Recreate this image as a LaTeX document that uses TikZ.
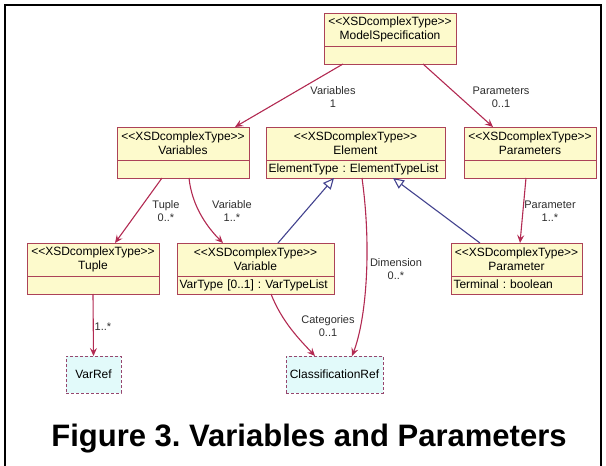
\documentclass[tikz,border=0pt]{standalone}
\usepackage{fontspec}
\setmainfont{Liberation Sans}
\usetikzlibrary{positioning,arrows.meta}
\definecolor{classfill}{RGB}{253,250,204}
\definecolor{classline}{RGB}{172,66,88}
\definecolor{assocred}{RGB}{178,42,82}
\definecolor{inheritblue}{RGB}{66,66,142}
\definecolor{reffill}{RGB}{226,250,250}
\definecolor{refline}{RGB}{150,70,110}
\definecolor{labelgray}{RGB}{45,45,45}
\newcommand\xsdtype{<{}<XSDcomplexType>{}>}
\frenchspacing

\begin{document}
\begin{tikzpicture}[x = 1pt, y = -1pt,
		head/.style = {draw = classline, fill = classfill, line width = 1pt,
			inner sep = 0pt, outer sep = 0pt, minimum height = 33pt,
			minimum width = #1, align = center, font = \fontsize{12}{14}\selectfont},
		body/.style 2 args = {draw = classline, fill = classfill, line width = 1pt,
			inner xsep = 2.5pt, inner ysep = 0pt, outer sep = 0pt, minimum height = 18pt,
			minimum width = #1, text width = #2, align = left,
			text height = 8.5pt, text depth = 2.5pt, font = \fontsize{12}{14}\selectfont},
		refbox/.style = {draw = refline, fill = reffill, line width = 1pt,
			dash pattern = on 3pt off 2pt, inner sep = 0pt, outer sep = 0pt,
			minimum height = 37pt, minimum width = #1, font = \fontsize{12}{14}\selectfont},
		assoc/.style = {draw = assocred, line width = 1.1pt,
			-{Stealth[length = 8pt, width = 7pt, inset = 3pt]}},
		inherit/.style = {draw = inheritblue, line width = 1.1pt,
			-{Triangle[open, length = 11pt, width = 10pt, fill = white]}},
		assoclabel/.style = {align = center, text = labelgray, inner sep = 0pt,
			font = \fontsize{11}{13}\selectfont}]
	\useasboundingbox (0, 0) rectangle (606, 466) ;
	\draw [line width = 2.5pt] (5, 466) -- (5, 5) -- (601, 5) -- (601, 466) ;

	\node [head = 132pt] (ms) at (390, 29.5) {\xsdtype\\ModelSpecification} ;
	\node [body = {132pt}{127pt}, below = 0pt of ms] (msb) {} ;
	\node [head = 132pt] (vars) at (183, 143.5) {\xsdtype\\Variables} ;
	\node [body = {132pt}{127pt}, below = 0pt of vars] (varsb) {} ;
	\node [head = 179pt] (el) at (355.5, 143.5) {\xsdtype\\Element} ;
	\node [body = {179pt}{174pt}, below = 0pt of el] (elb) {ElementType : ElementTypeList} ;
	\node [head = 132pt] (params) at (530, 143.5) {\xsdtype\\Parameters} ;
	\node [body = {132pt}{127pt}, below = 0pt of params] (paramsb) {} ;
	\node [head = 132pt] (tuple) at (93, 259.5) {\xsdtype\\Tuple} ;
	\node [body = {132pt}{127pt}, below = 0pt of tuple] (tupleb) {} ;
	\node [head = 157pt] (variable) at (255.5, 259.5) {\xsdtype\\Variable} ;
	\node [body = {157pt}{152pt}, below = 0pt of variable] (variableb) {VarType [0..1] : VarTypeList} ;
	\node [head = 131pt] (parameter) at (516.5, 259.5) {\xsdtype\\Parameter} ;
	\node [body = {131pt}{126pt}, below = 0pt of parameter] (parameterb) {Terminal : boolean} ;
	\node [refbox = 55pt] (varref) at (93.5, 374.5) {VarRef} ;
	\node [refbox = 97pt] (classref) at (334.5, 374.5) {ClassificationRef} ;

	\draw [assoc] ([xshift = -47pt]msb.south) -- ([xshift = 52pt]vars.north) ;
	\draw [assoc] ([xshift = 33pt]msb.south) -- ([xshift = -37pt]params.north) ;
	\draw [assoc] ([xshift = -21pt]varsb.south) -- ([xshift = 22pt]tuple.north) ;
	\draw [assoc] ([xshift = 6pt]varsb.south)
		.. controls (192, 207) and (208, 228) .. ([xshift = -32.5pt]variable.north) ;
	\draw [assoc] ([xshift = -4pt]paramsb.south) -- ([xshift = 3.5pt]parameter.north) ;
	\draw [assoc] (tupleb.south) -- (varref.north) ;
	\draw [assoc] ([xshift = 15.5pt]variableb.south)
		.. controls (282, 322) and (300, 340) .. ([xshift = -19.5pt]classref.north) ;
	\draw [assoc] ([xshift = 6.5pt]elb.south)
		.. controls (372, 250) and (366, 320) .. ([xshift = 17.5pt]classref.north) ;
	\draw [inherit] ([xshift = 22.5pt]variable.north) -- ([xshift = -21.5pt]elb.south) ;
	\draw [inherit] ([xshift = -36.5pt]parameter.north) -- ([xshift = 37.5pt]elb.south) ;

	\node [assoclabel] (lvars) at (333, 97.5) {Variables\\1} ;
	\node [assoclabel] (lparams) at (501, 97.5) {Parameters\\0..1} ;
	\node [assoclabel] (ltuple) at (166, 211.5) {Tuple\\0..*} ;
	\node [assoclabel] (lvariable) at (232, 211.5) {Variable\\1..*} ;
	\node [assoclabel] (lparameter) at (550, 211.5) {Parameter\\1..*} ;
	\node [assoclabel] (lvarref) at (103, 327) {1..*} ;
	\node [assoclabel] (lcategories) at (328, 326) {Categories\\0..1} ;
	\node [assoclabel] (ldimension) at (396, 269.5) {Dimension\\0..*} ;

	\node [anchor = base, font = \fontsize{31}{36}\selectfont\bfseries] (title)
		at (309, 446) {Figure 3. Variables and Parameters} ;
\end{tikzpicture}
\end{document}
